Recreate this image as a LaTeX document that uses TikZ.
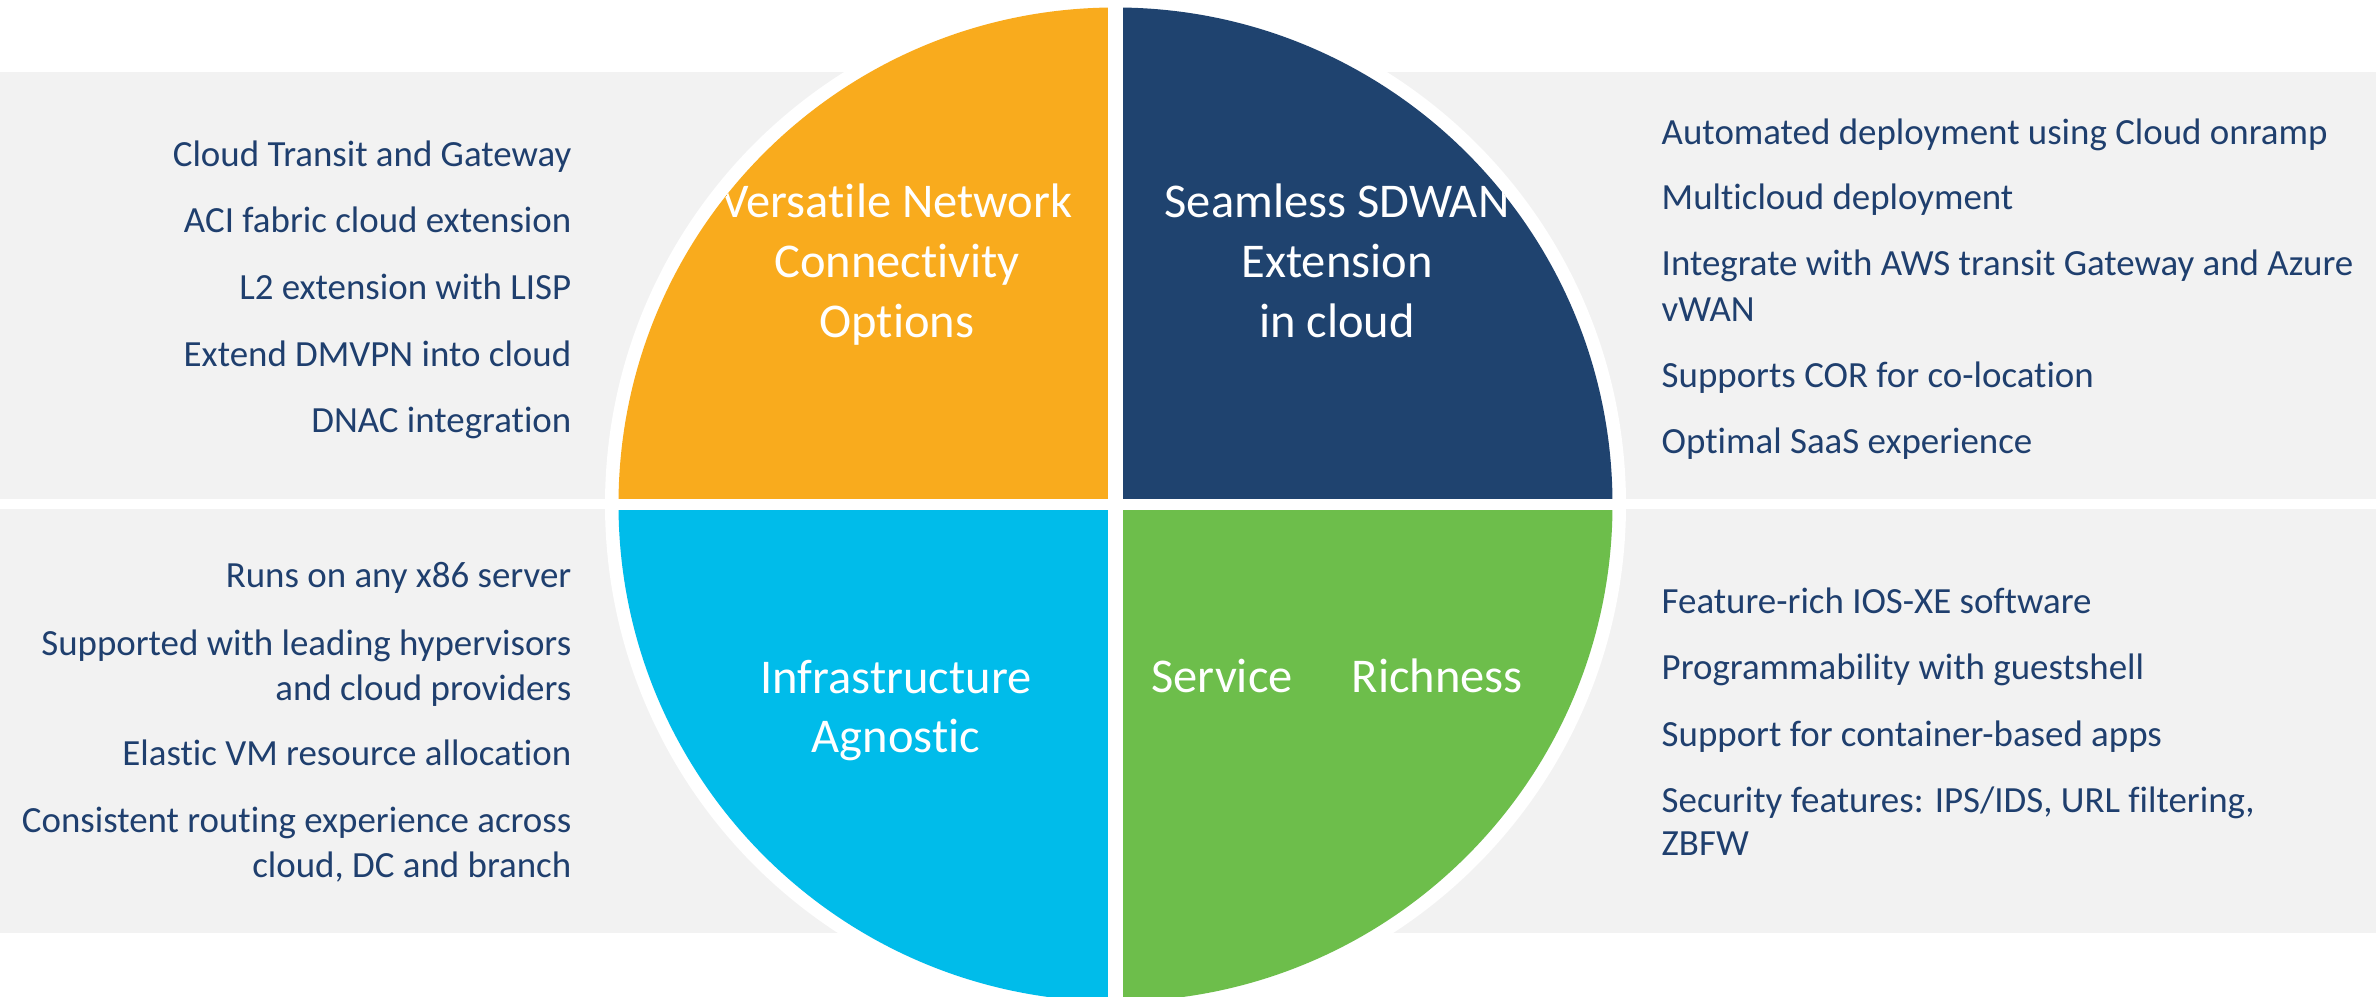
\documentclass[tikz,border=0pt]{standalone}
\usepackage{fontspec}
\setmainfont[Ligatures=CommonOff]{Carlito}
\definecolor{bandgray}{HTML}{F2F2F2}
\definecolor{qorange}{HTML}{F9AB1D}
\definecolor{qnavy}{HTML}{1F436F}
\definecolor{qcyan}{HTML}{00BCEA}
\definecolor{qgreen}{HTML}{6DBE4B}
\definecolor{itemblue}{HTML}{1F3F6E}
\begin{document}
\begin{tikzpicture}[x=1cm, y=-1cm,
  itm/.style={inner sep=0, text=itemblue, font=\fontsize{10.5}{12.8}\selectfont},
  hdr/.style={inner sep=0, text=white, anchor=base, font=\fontsize{13.8}{16.8}\selectfont}]
\useasboundingbox (0,0) rectangle (23.76,9.96);
\fill[bandgray] (0,0.72) rectangle (23.76,4.99);
\fill[bandgray] (0,5.09) rectangle (23.76,9.33);
\fill[white] (11.155,5.045) circle (5.105);
\begin{scope}
\clip (11.155,5.045) circle (4.97);
\fill[qorange] (6,0) rectangle (11.08,4.99);
\fill[qnavy] (11.23,0) rectangle (16.3,4.99);
\fill[qcyan] (6,5.10) rectangle (11.08,10.1);
\fill[qgreen] (11.23,5.10) rectangle (16.3,10.1);
\node[hdr] (hd0) at (8.97,2.18) {Versatile Network};
\node[hdr] (hd1) at (8.97,2.77) {Connectivity};
\node[hdr] (hd2) at (8.97,3.37) {Options};
\node[hdr] (hd3) at (13.37,2.18) {Seamless SDWAN};
\node[hdr] (hd4) at (13.37,2.77) {Extension};
\node[hdr] (hd5) at (13.37,3.37) {in cloud};
\node[hdr] (hd6) at (8.96,6.93) {Infrastructure};
\node[hdr] (hd7) at (8.96,7.52) {Agnostic};
\node[hdr] (hd8) at (13.37,6.92) {Service\hspace{0.59cm}Richness};
\end{scope}
\node[itm, anchor=base east] (lt0) at (5.72,1.67) {Cloud Transit and Gateway};
\node[itm, anchor=base east] (lt1) at (5.72,2.33) {ACI fabric cloud extension};
\node[itm, anchor=base east] (lt2) at (5.72,2.99) {L2 extension with LISP};
\node[itm, anchor=base east] (lt3) at (5.72,3.66) {Extend DMVPN into cloud};
\node[itm, anchor=base east] (lt4) at (5.72,4.32) {DNAC integration};
\node[itm, anchor=base west] (rt0) at (16.61,1.45) {Automated deployment using Cloud onramp};
\node[itm, anchor=base west] (rt1) at (16.61,2.10) {Multicloud deployment};
\node[itm, anchor=base west] (rt2) at (16.61,2.76) {Integrate with AWS transit Gateway and Azure};
\node[itm, anchor=base west] (rt3) at (16.61,3.21) {vWAN};
\node[itm, anchor=base west] (rt4) at (16.61,3.87) {Supports COR for co-location};
\node[itm, anchor=base west] (rt5) at (16.61,4.53) {Optimal SaaS experience};
\node[itm, anchor=base east] (lb0) at (5.72,5.87) {Runs on any x86 server};
\node[itm, anchor=base east] (lb1) at (5.72,6.55) {Supported with leading hypervisors};
\node[itm, anchor=base east] (lb2) at (5.72,7.00) {and cloud providers};
\node[itm, anchor=base east] (lb3) at (5.72,7.65) {Elastic VM resource allocation};
\node[itm, anchor=base east] (lb4) at (5.72,8.32) {Consistent routing experience across};
\node[itm, anchor=base east] (lb5) at (5.72,8.77) {cloud, DC and branch};
\node[itm, anchor=base west] (rb0) at (16.61,6.13) {Feature-rich IOS-XE software};
\node[itm, anchor=base west] (rb1) at (16.61,6.79) {Programmability with guestshell};
\node[itm, anchor=base west] (rb2) at (16.61,7.46) {Support for container-based apps};
\node[itm, anchor=base west] (rb3) at (16.61,8.12) {Security features: IPS/IDS, URL filtering,};
\node[itm, anchor=base west] (rb4) at (16.61,8.55) {ZBFW};
\end{tikzpicture}
\end{document}
